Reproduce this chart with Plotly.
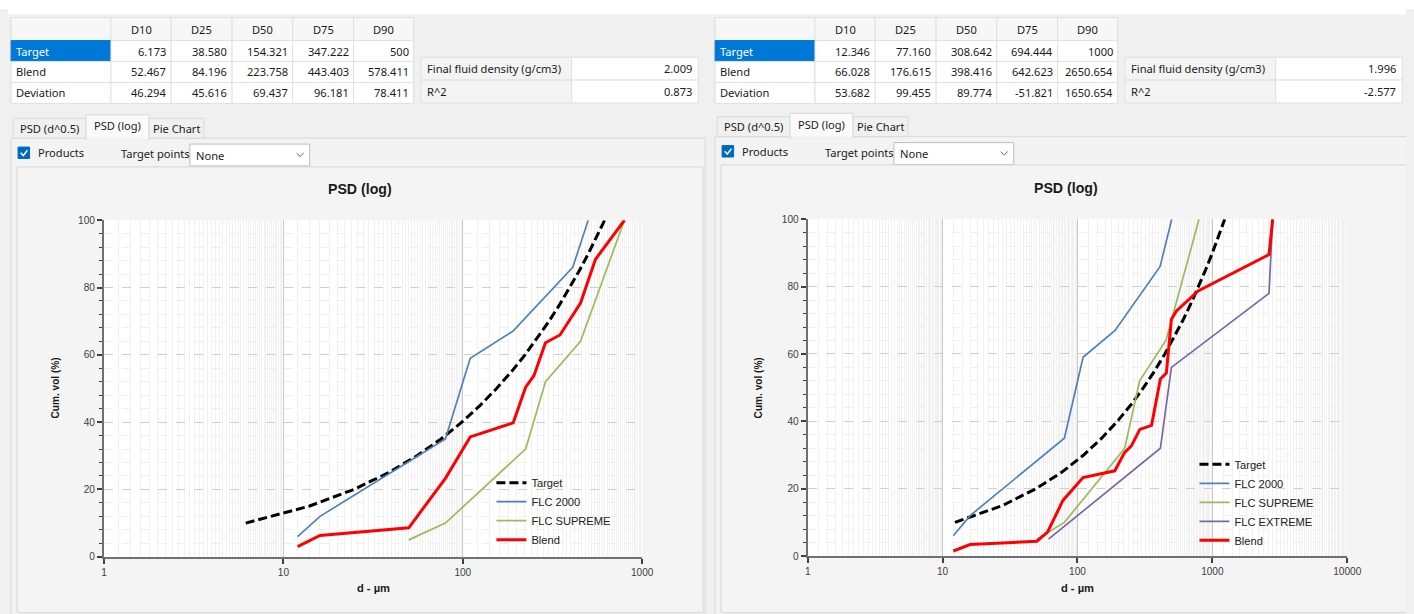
import plotly.graph_objects as go

# Window is 1414x614.  The captured page is rendered slightly reduced
# (observed factor ~1399/1414), so page coordinates are pre-scaled by S.
WIN_W, WIN_H = 1414, 614
S = 1414 / 1399
OFF = 8                      # default body margin of the page
FW = round(WIN_W * S) - OFF
FH = round(WIN_H * S) - OFF
UI_FONT = "Noto Sans"
CHART_FONT = "Liberation Sans"

# ---------------- data ----------------
stat_cols = ["D10", "D25", "D50", "D75", "D90"]
row_names = ["Target", "Blend", "Deviation"]
left_stats = [
    ["6.173", "38.580", "154.321", "347.222", "500"],
    ["52.467", "84.196", "223.758", "443.403", "578.411"],
    ["46.294", "45.616", "69.437", "96.181", "78.411"],
]
right_stats = [
    ["12.346", "77.160", "308.642", "694.444", "1000"],
    ["66.028", "176.615", "398.416", "642.623", "2650.654"],
    ["53.682", "99.455", "89.774", "-51.821", "1650.654"],
]
prop_names = ["Final fluid density (g/cm3)", "R^2"]
left_props = ["2.009", "0.873"]
right_props = ["1.996", "-2.577"]
tab_names = ["PSD (d^0.5)", "PSD (log)", "Pie Chart"]
chart_title = "PSD (log)"
x_title = "d - µm"
y_title = "Cum. vol (%)"

target_pct = [10, 15, 20, 25, 30, 35, 40, 45, 50, 55, 60, 65, 70, 75, 80, 85, 90, 95, 100]
left_target_d = [6.17, 13.89, 24.69, 38.58, 55.56, 75.62, 98.77, 125.0, 154.32, 186.73,
                 222.22, 260.80, 302.47, 347.22, 395.06, 445.99, 500.0, 557.10, 617.28]
right_target_d = [12.35, 27.78, 49.38, 77.16, 111.11, 151.23, 197.53, 250.0, 308.64, 373.46,
                  444.44, 521.60, 604.94, 694.44, 790.12, 891.98, 1000.0, 1114.2, 1234.57]

flc2000_d = [12, 16, 80, 110, 190, 410, 500]
flc2000_pct = [6, 12, 35, 59, 67, 86, 100]
supreme_d = [50, 80, 224, 289, 453, 796]
supreme_pct = [5, 10, 32, 52, 64, 100]
extreme_d = [61, 412, 497, 2630, 2800]
extreme_pct = [5, 32, 56, 78, 100]
left_blend_d = [12, 16, 50, 80, 110, 191, 224, 249, 289, 348, 453, 549, 796]
left_blend_pct = [3, 6.3, 8.6, 23.3, 35.6, 39.8, 50.4, 53.8, 63.6, 65.9, 75.4, 88.4, 100]
right_blend_d = [12, 16, 50, 60, 78, 110, 189, 224, 251, 290, 354, 412, 456, 497, 542, 784, 2630, 2800]
right_blend_pct = [1.5, 3.4, 4.4, 7.1, 16.5, 23.3, 25.3, 30.8, 32.7, 37.6, 38.8, 52.6, 54.3, 70.3, 72.8, 78.7, 89.5, 100]

# ---------------- helpers (window pixel -> paper) ----------------
shapes = []
annotations = []


def fx(x):
    return (x * S - OFF) / FW


def fy(y):
    return 1 - (y * S - OFF) / FH


def fs(size):
    return round(size * S, 2)


def rect(x0, y0, x1, y1, fill, line=None, lw=1):
    shapes.append(dict(type="rect", xref="paper", yref="paper",
                       x0=fx(x0), x1=fx(x1), y0=fy(y1), y1=fy(y0),
                       fillcolor=fill,
                       line=dict(color=line if line else "rgba(0,0,0,0)", width=lw if line else 0),
                       layer="below"))


def path(points, color, width=1.5):
    d = "M " + " L ".join("%f %f" % (fx(a), fy(b)) for a, b in points)
    shapes.append(dict(type="path", xref="paper", yref="paper", path=d,
                       line=dict(color=color, width=width), layer="above"))


def text(x, y, s, anchor="left", size=11, color="#1a1a1a", bold=False, family=UI_FONT, angle=0):
    annotations.append(dict(xref="paper", yref="paper", x=fx(x), y=fy(y),
                            text=("<b>%s</b>" % s) if bold else s, showarrow=False,
                            xanchor=anchor, yanchor="middle", textangle=angle,
                            font=dict(family=family, size=fs(size), color=color)))


TABLE_X = [8, 108, 168.3, 229.3, 290, 351, 411]
TABLE_Y = [12.5, 35.7, 56.7, 78, 99]
PROP_X = [418.3, 569.3, 696]
PROP_Y = [52.5, 75.5, 98.5]
TAB_X = [10, 83, 146, 201]
GRID = "#e1e1e1"

# white strip at the top of the window
rect(0, 0, WIN_W, 9.5, "#ffffff")

panels = [
    dict(ox=0, dy=0, stats=left_stats, props=left_props, box=(14, 163, 701, 612),
         plot=(101, 216.7, 640, 555.7), content=(8, 134, 703, 616)),
    dict(ox=705, dy=-1.5, stats=right_stats, props=right_props, box=(719, 161, 1410, 612),
         plot=(805.7, 215.7, 1346, 555), content=(713, 132.5, 1412, 616)),
]

for p in panels:
    ox, dy = p["ox"], p["dy"]
    tx = [v + ox for v in TABLE_X]
    # stats table
    rect(tx[0], TABLE_Y[0], tx[-1], TABLE_Y[-1], "#ffffff", GRID)
    for c in range(6):
        rect(tx[c], TABLE_Y[0], tx[c + 1], TABLE_Y[1], "#f7f7f7", GRID)
        if c > 0:
            text((tx[c] + tx[c + 1]) / 2, (TABLE_Y[0] + TABLE_Y[1]) / 2, stat_cols[c - 1], anchor="center")
    for r in range(3):
        y0, y1 = TABLE_Y[r + 1], TABLE_Y[r + 2]
        ym = (y0 + y1) / 2
        if r == 0:
            rect(tx[0], y0, tx[1], y1, "#0078d7", "#0078d7")
            text(tx[0] + 3, ym, row_names[r], color="#ffffff")
        else:
            rect(tx[0], y0, tx[1], y1, "#ffffff", GRID)
            text(tx[0] + 3, ym, row_names[r])
        for c in range(5):
            rect(tx[c + 1], y0, tx[c + 2], y1, "#ffffff", GRID)
            text(tx[c + 2] - 3, ym, p["stats"][r][c], anchor="right")
    # properties table
    px_ = [v + ox for v in PROP_X]
    for r in range(2):
        y0, y1 = PROP_Y[r], PROP_Y[r + 1]
        ym = (y0 + y1) / 2
        rect(px_[0], y0, px_[1], y1, "#f4f4f4", GRID)
        rect(px_[1], y0, px_[2], y1, "#ffffff", GRID)
        text(px_[0] + 4, ym, prop_names[r])
        text(px_[2] - 4, ym, p["props"][r], anchor="right")

    # tab content panel
    cx0, cy0, cx1, cy1 = p["content"]
    rect(cx0, cy0, cx1, cy1, "#f3f3f3", "#d9d9d9")
    # tabs
    tabx = [v + ox for v in TAB_X]
    for i in range(3):
        if i == 1:
            continue
        rect(tabx[i], 114 + dy, tabx[i + 1], cy0, "#f0f0f0", "#d9d9d9")
        text((tabx[i] + tabx[i + 1]) / 2, 124 + dy, tab_names[i], anchor="center")
    rect(tabx[1], 110.5 + dy, tabx[2], cy0 + 1.5, "#fafafa", "#d9d9d9")
    rect(tabx[1] + 1, cy0 - 0.5, tabx[2] - 1, cy0 + 2, "#f3f3f3")
    text((tabx[1] + tabx[2]) / 2, 121.5 + dy, tab_names[1], anchor="center")

    # checkbox + controls
    rect(15 + ox, 143 + dy, 26.5 + ox, 154.5 + dy, "#0067c0", "#0067c0")
    path([(17.6 + ox, 148.8 + dy), (20.2 + ox, 151.6 + dy), (24.3 + ox, 146.2 + dy)], "#ffffff", 1.5)
    text(33 + ox, 148.5 + dy, "Products")
    text(116 + ox, 149.5 + dy, "Target points")
    rect(187 + ox, 140 + dy, 307 + ox, 162 + dy, "#ffffff", "#bcbcbc")
    text(191 + ox, 151 + dy, "None")
    path([(294 + ox, 149 + dy), (297.5 + ox, 152.5 + dy), (301 + ox, 149 + dy)], "#606060", 1)

    # chart box and plot area
    bx0, by0, bx1, by1 = p["box"]
    rect(bx0, by0, bx1, by1, "#f4f4f4", "#d6d6d6")
    qx0, qy0, qx1, qy1 = p["plot"]
    rect(qx0, qy0, qx1, qy1, "#ffffff")
    text((bx0 + bx1) / 2, 185.5 + dy, chart_title, anchor="center", size=14, bold=True, family=CHART_FONT)
    text(qx0 - 49, (qy0 + qy1) / 2, y_title, anchor="center", size=10, bold=True,
         family=CHART_FONT, angle=-90)
    text((qx0 + qx1) / 2, 587, x_title, anchor="center", size=11, bold=True, family=CHART_FONT)

# ---------------- traces ----------------
fig = go.Figure()

STY = {
    "Target": dict(color="#000000", width=3, dash="9px,4px"),
    "FLC 2000": dict(color="#4f81bd", width=1.7),
    "FLC SUPREME": dict(color="#9bbb59", width=1.7),
    "FLC EXTREME": dict(color="#8064a2", width=1.7),
    "Blend": dict(color="#ff0000", width=3),
}

left_series = [
    ("Target", left_target_d, target_pct),
    ("FLC 2000", flc2000_d, flc2000_pct),
    ("FLC SUPREME", supreme_d, supreme_pct),
    ("Blend", left_blend_d, left_blend_pct),
]
right_series = [
    ("Target", right_target_d, target_pct),
    ("FLC 2000", flc2000_d, flc2000_pct),
    ("FLC SUPREME", supreme_d, supreme_pct),
    ("FLC EXTREME", extreme_d, extreme_pct),
    ("Blend", right_blend_d, right_blend_pct),
]
for name, xs, ys in left_series:
    fig.add_trace(go.Scatter(x=xs, y=ys, name=name, mode="lines", line=STY[name],
                             xaxis="x", yaxis="y", legend="legend"))
for name, xs, ys in right_series:
    fig.add_trace(go.Scatter(x=xs, y=ys, name=name, mode="lines", line=STY[name],
                             xaxis="x2", yaxis="y2", legend="legend2"))


# ---------------- axes ----------------
def minor_vals(n_dec):
    vals = []
    for e in range(n_dec):
        base = 10 ** e
        for k in range(1, 45):
            vals.append(round(base * (1 + 0.2 * k), 6))
    return vals


def xcfg(plot, n_dec, anchor):
    x0, y0, x1, y1 = plot
    ticks = [10 ** e for e in range(n_dec + 1)]
    return dict(domain=[fx(x0), fx(x1)], type="log", range=[0, n_dec], anchor=anchor,
                tickmode="array", tickvals=ticks, ticktext=[str(t) for t in ticks],
                showgrid=True, gridcolor="#c9c9c9", gridwidth=1,
                showline=True, linecolor="#707070", linewidth=2,
                ticks="outside", ticklen=5, tickwidth=1.5, tickcolor="#404040",
                tickfont=dict(family=CHART_FONT, size=fs(10), color="#404040"),
                zeroline=False, fixedrange=True,
                minor=dict(tickmode="array", tickvals=minor_vals(n_dec), showgrid=True,
                           gridcolor="#f1f1f1", gridwidth=1, ticks=""))


def ycfg(plot, anchor):
    x0, y0, x1, y1 = plot
    return dict(domain=[fy(y1), fy(y0)], range=[0, 100], anchor=anchor,
                tickmode="linear", tick0=0, dtick=20,
                showgrid=True, gridcolor="#cfcfcf", gridwidth=1, griddash="dash",
                showline=True, linecolor="#707070", linewidth=2,
                ticks="outside", ticklen=5, tickwidth=1.5, tickcolor="#404040",
                tickfont=dict(family=CHART_FONT, size=fs(10), color="#404040"),
                zeroline=False, fixedrange=True,
                minor=dict(dtick=4, tick0=0, showgrid=True, gridcolor="#efefef",
                           ticks="outside", ticklen=3, tickwidth=1, tickcolor="#404040"))


lp, rp = panels[0]["plot"], panels[1]["plot"]
legend_common = dict(xanchor="left", yanchor="top", bgcolor="rgba(0,0,0,0)",
                     font=dict(family=CHART_FONT, size=fs(11), color="#202020"),
                     itemwidth=30, tracegroupgap=0, borderwidth=0)

fig.update_layout(
    width=FW, height=FH,
    margin=dict(l=0, r=0, t=0, b=0, pad=0),
    paper_bgcolor="#f0f0f0", plot_bgcolor="#ffffff",
    showlegend=True,
    xaxis=xcfg(lp, 3, "y"), yaxis=ycfg(lp, "x"),
    xaxis2=xcfg(rp, 4, "y2"), yaxis2=ycfg(rp, "x2"),
    legend=dict(x=fx(489), y=fy(466.5), **legend_common),
    legend2=dict(x=fx(1193), y=fy(448), **legend_common),
    shapes=shapes, annotations=annotations,
)

fig.write_html("out.html", config={"displayModeBar": False},
               post_script="document.body.style.background="
                           "'linear-gradient(#ffffff 0px, #ffffff 9px, #f0f0f0 9px)';")
